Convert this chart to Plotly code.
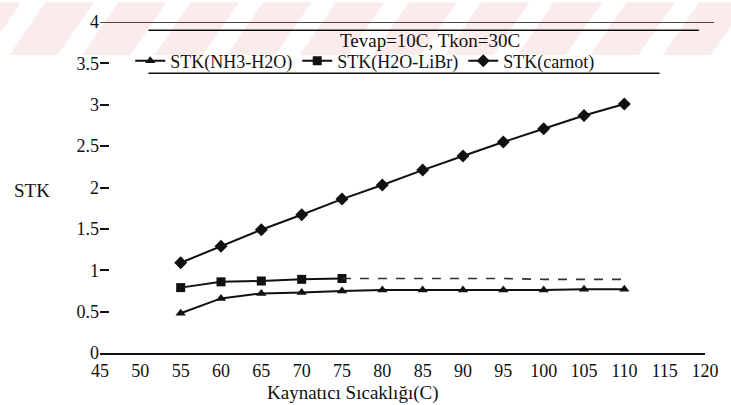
import plotly.graph_objects as go

# ---- data ----
temps = [55, 60, 65, 70, 75, 80, 85, 90, 95, 100, 105, 110]
stk_nh3_h2o = [0.48, 0.66, 0.72, 0.73, 0.75, 0.76, 0.76, 0.76, 0.76, 0.76, 0.77, 0.77]
temps_libr = [55, 60, 65, 70, 75]
stk_h2o_libr = [0.79, 0.86, 0.87, 0.89, 0.90]
temps_libr_ext = [75, 80, 85, 90, 95, 100, 105, 110]
stk_h2o_libr_ext = [0.90, 0.90, 0.90, 0.90, 0.90, 0.89, 0.89, 0.89]
stk_carnot = [1.09, 1.29, 1.49, 1.67, 1.86, 2.03, 2.21, 2.38, 2.55, 2.71, 2.87, 3.01]

x_ticks = list(range(45, 121, 5))
y_ticks = [0, 0.5, 1, 1.5, 2, 2.5, 3, 3.5, 4]

title_text = "Tevap=10C, Tkon=30C"
x_title = "Kaynatıcı Sıcaklığı(C)"
y_title = "STK"

SERIF = "Liberation Serif, Times New Roman, serif"
INK = "#111111"

fig = go.Figure()
fig.add_trace(go.Scatter(
    x=temps, y=stk_nh3_h2o, name="STK(NH3-H2O)", mode="lines+markers",
    line=dict(color=INK, width=2), marker=dict(symbol="triangle-up", size=9, color=INK)))
fig.add_trace(go.Scatter(
    x=temps_libr, y=stk_h2o_libr, name="STK(H2O-LiBr)", mode="lines+markers",
    line=dict(color=INK, width=2), marker=dict(symbol="square", size=9, color=INK)))
fig.add_trace(go.Scatter(
    x=temps_libr_ext, y=stk_h2o_libr_ext, showlegend=False, mode="lines",
    line=dict(color="#333333", width=1.6, dash="dash")))
fig.add_trace(go.Scatter(
    x=temps, y=stk_carnot, name="STK(carnot)", mode="lines+markers",
    line=dict(color=INK, width=2), marker=dict(symbol="diamond", size=10, color=INK)))

shapes = []
# pink watermark stripes at top
for i in range(-2, 16):
    x0 = i * 0.12
    shapes.append(dict(type="path", xref="paper", yref="paper", layer="below",
                       path=f"M {x0 - 0.15},0.90 L {x0 - 0.07},0.90 L {x0 - 0.01},1.06 L {x0 - 0.09},1.06 Z",
                       fillcolor="rgba(235,170,170,0.22)", line=dict(width=0)))
# top frame line at y=4
shapes.append(dict(type="line", xref="paper", yref="y", x0=0, x1=1.015, y0=4, y1=4,
                   line=dict(color=INK, width=1.5)))
# legend box lines
shapes.append(dict(type="line", xref="paper", yref="paper", x0=0.08, x1=0.99, y0=0.975, y1=0.975,
                   line=dict(color=INK, width=1.5)))
shapes.append(dict(type="line", xref="paper", yref="paper", x0=0.08, x1=0.925, y0=0.845, y1=0.845,
                   line=dict(color=INK, width=1.5)))

fig.update_layout(
    width=731, height=405,
    margin=dict(l=100, r=15, t=17, b=52),
    paper_bgcolor="white", plot_bgcolor="white",
    font=dict(family=SERIF, color=INK, size=17),
    showlegend=True,
    legend=dict(orientation="h", x=0.05, y=0.882, xanchor="left", yanchor="middle",
                font=dict(family=SERIF, size=18, color=INK), bgcolor="rgba(0,0,0,0)",
                itemwidth=30, tracegroupgap=0),
    shapes=shapes,
    annotations=[
        dict(text=title_text, xref="paper", yref="paper", x=0.545, y=0.943,
             xanchor="center", yanchor="middle",
             showarrow=False, font=dict(family=SERIF, size=19, color=INK)),
        dict(text=y_title, xref="paper", yref="paper", x=-0.112, y=0.49,
             xanchor="center", yanchor="middle",
             showarrow=False, font=dict(family=SERIF, size=19, color=INK)),
        dict(text=x_title, xref="paper", yref="paper", x=0.417, y=-0.122,
             xanchor="center", yanchor="middle",
             showarrow=False, font=dict(family=SERIF, size=19, color=INK)),
    ],
)
fig.update_xaxes(
    range=[45, 120], tickvals=x_ticks, ticktext=[str(v) for v in x_ticks],
    showgrid=False, zeroline=False, showline=True, linecolor=INK, linewidth=2,
    ticks="", tickfont=dict(family=SERIF, size=18, color=INK),
)
fig.update_yaxes(
    range=[0, 4], tickvals=y_ticks, ticktext=[f"{v:g}" for v in y_ticks],
    showgrid=False, zeroline=False, showline=False,
    ticks="inside", ticklen=9, tickwidth=1.5, tickcolor=INK,
    tickfont=dict(family=SERIF, size=18, color=INK),
)

fig.write_html("out.html")
